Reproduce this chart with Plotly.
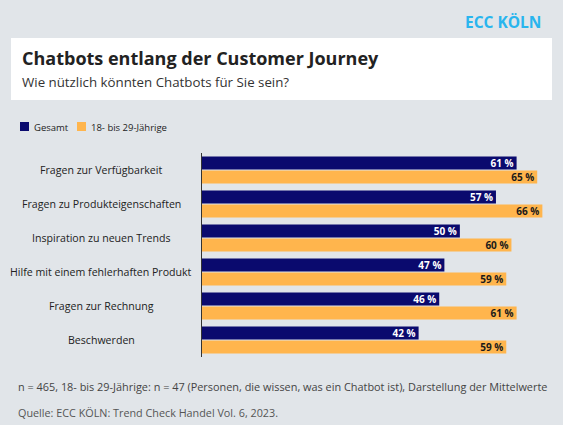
import plotly.graph_objects as go

categories = ["Fragen zur Verfügbarkeit", "Fragen zu Produkteigenschaften", "Inspiration zu neuen Trends",
              "Hilfe mit einem fehlerhaften Produkt", "Fragen zur Rechnung", "Beschwerden"]
gesamt = [61, 57, 50, 47, 46, 42]
jung = [65, 66, 60, 59, 61, 59]

W, H = 563, 425
L, R, T, B = 202, 0, 153, 68
pw, ph = W - L - R, H - T - B
def px(x): return (x - L) / pw
def py(y): return 1 - (y - T) / ph

FONT = "Open Sans"
fig = go.Figure()
fig.add_bar(y=categories, x=gesamt, orientation="h", name="Gesamt", marker_color="#0a0a6e",
            text=[f"{v} %" for v in gesamt], textposition="inside", insidetextanchor="end",
            textfont=dict(color="white", size=10, family=FONT, weight="bold"), marker_line_width=0)
fig.add_bar(y=categories, x=jung, orientation="h", name="18- bis 29-Jährige", marker_color="#ffb54d",
            text=[f"{v} %" for v in jung], textposition="inside", insidetextanchor="end",
            textfont=dict(color="#1a1a1a", size=10, family=FONT, weight="bold"), marker_line_width=0)

fig.update_layout(
    width=W, height=H, margin=dict(l=L, r=R, t=T, b=B),
    paper_bgcolor="#e1e5e9", plot_bgcolor="#e1e5e9",
    barmode="group", bargap=0.18, bargroupgap=0.06,
    showlegend=False, uniformtext=dict(mode="show", minsize=8),
    xaxis=dict(range=[0, 70], visible=False),
    yaxis=dict(autorange="reversed", showline=True, linecolor="#333", linewidth=1, ticks="",
               showticklabels=False),
    font=dict(family=FONT),
)
shapes = [dict(type="rect", xref="paper", yref="paper", x0=px(11), x1=px(552), y0=py(38), y1=py(100),
               fillcolor="white", line_width=0, layer="below"),
          dict(type="rect", xref="paper", yref="paper", x0=px(20), x1=px(29), y0=py(122), y1=py(131),
               fillcolor="#0a0a6e", line_width=0),
          dict(type="rect", xref="paper", yref="paper", x0=px(77), x1=px(86), y0=py(122), y1=py(131),
               fillcolor="#ffb54d", line_width=0)]
fig.update_layout(shapes=shapes)
def ann(x, y, text, size, color="#222", bold=False, anchor="left"):
    fig.add_annotation(xref="paper", yref="paper", x=px(x), y=py(y), text=text, showarrow=False,
                       xanchor=anchor, yanchor="middle",
                       font=dict(family=FONT, size=size, color=color, weight="bold" if bold else "normal"))
for c in categories:
    fig.add_annotation(xref="paper", yref="y", x=px(101), y=c, text=c, showarrow=False,
                       xanchor="center", yanchor="middle", font=dict(family=FONT, size=10.6, color="#222"))
ann(543, 22, "ECC KÖLN", 15.5, "#29b5ee", True, "right")
ann(20, 58, "Chatbots entlang der Customer Journey", 18, "#222", True)
ann(20, 82, "Wie nützlich könnten Chatbots für Sie sein?", 13.3, "#333")
ann(32, 127, "Gesamt", 9.5, "#222")
ann(89, 127, "18- bis 29-Jährige", 9.5, "#222")
ann(16, 386, "n = 465, 18- bis 29-Jährige: n = 47 (Personen, die wissen, was ein Chatbot ist), Darstellung der Mittelwerte", 10.9, "#444")
ann(16, 412, "Quelle: ECC KÖLN: Trend Check Handel Vol. 6, 2023.", 10.8, "#555")
fig.write_html("out.html", config={"displayModeBar": False},
               post_script="document.body.style.margin='0';document.body.style.overflow='hidden';")
